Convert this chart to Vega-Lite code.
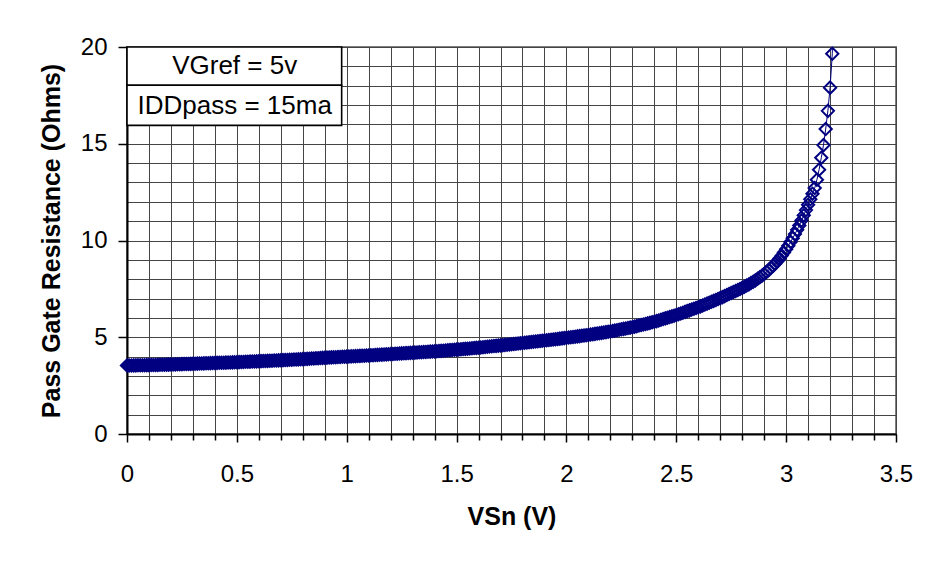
{
  "$schema": "https://vega.github.io/schema/vega-lite/v6.json",
  "autosize": "none",
  "width": 769,
  "height": 387,
  "padding": {"left": 127, "top": 47, "right": 33, "bottom": 128},
  "background": "white",
  "datasets": {
    "curve": [
{"vsn":0,"ohms":3.54},{"vsn":0.01,"ohms":3.542},{"vsn":0.02,"ohms":3.544},{"vsn":0.03,"ohms":3.546},{"vsn":0.04,"ohms":3.548},{"vsn":0.05,"ohms":3.55},{"vsn":0.06,"ohms":3.552},{"vsn":0.07,"ohms":3.554},{"vsn":0.08,"ohms":3.556},{"vsn":0.09,"ohms":3.558},
{"vsn":0.1,"ohms":3.56},{"vsn":0.11,"ohms":3.563},{"vsn":0.12,"ohms":3.566},{"vsn":0.13,"ohms":3.569},{"vsn":0.14,"ohms":3.572},{"vsn":0.15,"ohms":3.575},{"vsn":0.16,"ohms":3.578},{"vsn":0.17,"ohms":3.581},{"vsn":0.18,"ohms":3.584},{"vsn":0.19,"ohms":3.587},
{"vsn":0.2,"ohms":3.59},{"vsn":0.21,"ohms":3.594},{"vsn":0.22,"ohms":3.598},{"vsn":0.23,"ohms":3.602},{"vsn":0.24,"ohms":3.606},{"vsn":0.25,"ohms":3.61},{"vsn":0.26,"ohms":3.614},{"vsn":0.27,"ohms":3.618},{"vsn":0.28,"ohms":3.622},{"vsn":0.29,"ohms":3.626},
{"vsn":0.3,"ohms":3.63},{"vsn":0.31,"ohms":3.634},{"vsn":0.32,"ohms":3.638},{"vsn":0.33,"ohms":3.642},{"vsn":0.34,"ohms":3.646},{"vsn":0.35,"ohms":3.65},{"vsn":0.36,"ohms":3.654},{"vsn":0.37,"ohms":3.658},{"vsn":0.38,"ohms":3.662},{"vsn":0.39,"ohms":3.666},
{"vsn":0.4,"ohms":3.67},{"vsn":0.41,"ohms":3.674},{"vsn":0.42,"ohms":3.678},{"vsn":0.43,"ohms":3.682},{"vsn":0.44,"ohms":3.686},{"vsn":0.45,"ohms":3.69},{"vsn":0.46,"ohms":3.694},{"vsn":0.47,"ohms":3.698},{"vsn":0.48,"ohms":3.702},{"vsn":0.49,"ohms":3.706},
{"vsn":0.5,"ohms":3.71},{"vsn":0.51,"ohms":3.715},{"vsn":0.52,"ohms":3.72},{"vsn":0.53,"ohms":3.725},{"vsn":0.54,"ohms":3.73},{"vsn":0.55,"ohms":3.735},{"vsn":0.56,"ohms":3.74},{"vsn":0.57,"ohms":3.745},{"vsn":0.58,"ohms":3.75},{"vsn":0.59,"ohms":3.755},
{"vsn":0.6,"ohms":3.76},{"vsn":0.61,"ohms":3.765},{"vsn":0.62,"ohms":3.77},{"vsn":0.63,"ohms":3.775},{"vsn":0.64,"ohms":3.78},{"vsn":0.65,"ohms":3.785},{"vsn":0.66,"ohms":3.79},{"vsn":0.67,"ohms":3.795},{"vsn":0.68,"ohms":3.8},{"vsn":0.69,"ohms":3.805},
{"vsn":0.7,"ohms":3.81},{"vsn":0.71,"ohms":3.816},{"vsn":0.72,"ohms":3.822},{"vsn":0.73,"ohms":3.828},{"vsn":0.74,"ohms":3.834},{"vsn":0.75,"ohms":3.84},{"vsn":0.76,"ohms":3.846},{"vsn":0.77,"ohms":3.852},{"vsn":0.78,"ohms":3.858},{"vsn":0.79,"ohms":3.864},
{"vsn":0.8,"ohms":3.87},{"vsn":0.81,"ohms":3.877},{"vsn":0.82,"ohms":3.884},{"vsn":0.83,"ohms":3.891},{"vsn":0.84,"ohms":3.898},{"vsn":0.85,"ohms":3.905},{"vsn":0.86,"ohms":3.912},{"vsn":0.87,"ohms":3.919},{"vsn":0.88,"ohms":3.926},{"vsn":0.89,"ohms":3.933},
{"vsn":0.9,"ohms":3.94},{"vsn":0.91,"ohms":3.946},{"vsn":0.92,"ohms":3.952},{"vsn":0.93,"ohms":3.958},{"vsn":0.94,"ohms":3.964},{"vsn":0.95,"ohms":3.97},{"vsn":0.96,"ohms":3.976},{"vsn":0.97,"ohms":3.982},{"vsn":0.98,"ohms":3.988},{"vsn":0.99,"ohms":3.994},
{"vsn":1,"ohms":4},{"vsn":1.01,"ohms":4.006},{"vsn":1.02,"ohms":4.012},{"vsn":1.03,"ohms":4.018},{"vsn":1.04,"ohms":4.024},{"vsn":1.05,"ohms":4.03},{"vsn":1.06,"ohms":4.036},{"vsn":1.07,"ohms":4.042},{"vsn":1.08,"ohms":4.048},{"vsn":1.09,"ohms":4.054},
{"vsn":1.1,"ohms":4.06},{"vsn":1.11,"ohms":4.067},{"vsn":1.12,"ohms":4.074},{"vsn":1.13,"ohms":4.081},{"vsn":1.14,"ohms":4.088},{"vsn":1.15,"ohms":4.095},{"vsn":1.16,"ohms":4.102},{"vsn":1.17,"ohms":4.109},{"vsn":1.18,"ohms":4.116},{"vsn":1.19,"ohms":4.123},
{"vsn":1.2,"ohms":4.13},{"vsn":1.21,"ohms":4.137},{"vsn":1.22,"ohms":4.144},{"vsn":1.23,"ohms":4.151},{"vsn":1.24,"ohms":4.158},{"vsn":1.25,"ohms":4.165},{"vsn":1.26,"ohms":4.172},{"vsn":1.27,"ohms":4.179},{"vsn":1.28,"ohms":4.186},{"vsn":1.29,"ohms":4.193},
{"vsn":1.3,"ohms":4.2},{"vsn":1.31,"ohms":4.207},{"vsn":1.32,"ohms":4.214},{"vsn":1.33,"ohms":4.221},{"vsn":1.34,"ohms":4.228},{"vsn":1.35,"ohms":4.235},{"vsn":1.36,"ohms":4.242},{"vsn":1.37,"ohms":4.249},{"vsn":1.38,"ohms":4.256},{"vsn":1.39,"ohms":4.263},
{"vsn":1.4,"ohms":4.27},{"vsn":1.41,"ohms":4.279},{"vsn":1.42,"ohms":4.288},{"vsn":1.43,"ohms":4.297},{"vsn":1.44,"ohms":4.306},{"vsn":1.45,"ohms":4.315},{"vsn":1.46,"ohms":4.324},{"vsn":1.47,"ohms":4.333},{"vsn":1.48,"ohms":4.342},{"vsn":1.49,"ohms":4.351},
{"vsn":1.5,"ohms":4.36},{"vsn":1.51,"ohms":4.37},{"vsn":1.52,"ohms":4.38},{"vsn":1.53,"ohms":4.39},{"vsn":1.54,"ohms":4.4},{"vsn":1.55,"ohms":4.41},{"vsn":1.56,"ohms":4.42},{"vsn":1.57,"ohms":4.43},{"vsn":1.58,"ohms":4.44},{"vsn":1.59,"ohms":4.45},
{"vsn":1.6,"ohms":4.46},{"vsn":1.61,"ohms":4.472},{"vsn":1.62,"ohms":4.484},{"vsn":1.63,"ohms":4.496},{"vsn":1.64,"ohms":4.508},{"vsn":1.65,"ohms":4.52},{"vsn":1.66,"ohms":4.532},{"vsn":1.67,"ohms":4.544},{"vsn":1.68,"ohms":4.556},{"vsn":1.69,"ohms":4.568},
{"vsn":1.7,"ohms":4.58},{"vsn":1.71,"ohms":4.592},{"vsn":1.72,"ohms":4.604},{"vsn":1.73,"ohms":4.616},{"vsn":1.74,"ohms":4.628},{"vsn":1.75,"ohms":4.64},{"vsn":1.76,"ohms":4.652},{"vsn":1.77,"ohms":4.664},{"vsn":1.78,"ohms":4.676},{"vsn":1.79,"ohms":4.688},
{"vsn":1.8,"ohms":4.7},{"vsn":1.81,"ohms":4.713},{"vsn":1.82,"ohms":4.726},{"vsn":1.83,"ohms":4.739},{"vsn":1.84,"ohms":4.752},{"vsn":1.85,"ohms":4.765},{"vsn":1.86,"ohms":4.778},{"vsn":1.87,"ohms":4.791},{"vsn":1.88,"ohms":4.804},{"vsn":1.89,"ohms":4.817},
{"vsn":1.9,"ohms":4.83},{"vsn":1.91,"ohms":4.844},{"vsn":1.92,"ohms":4.858},{"vsn":1.93,"ohms":4.872},{"vsn":1.94,"ohms":4.886},{"vsn":1.95,"ohms":4.9},{"vsn":1.96,"ohms":4.914},{"vsn":1.97,"ohms":4.928},{"vsn":1.98,"ohms":4.942},{"vsn":1.99,"ohms":4.956},
{"vsn":2,"ohms":4.97},{"vsn":2.01,"ohms":4.985},{"vsn":2.02,"ohms":5},{"vsn":2.03,"ohms":5.015},{"vsn":2.04,"ohms":5.03},{"vsn":2.05,"ohms":5.045},{"vsn":2.06,"ohms":5.06},{"vsn":2.07,"ohms":5.075},{"vsn":2.08,"ohms":5.09},{"vsn":2.09,"ohms":5.105},
{"vsn":2.1,"ohms":5.12},{"vsn":2.11,"ohms":5.138},{"vsn":2.12,"ohms":5.156},{"vsn":2.13,"ohms":5.174},{"vsn":2.14,"ohms":5.192},{"vsn":2.15,"ohms":5.21},{"vsn":2.16,"ohms":5.228},{"vsn":2.17,"ohms":5.246},{"vsn":2.18,"ohms":5.264},{"vsn":2.19,"ohms":5.282},
{"vsn":2.2,"ohms":5.3},{"vsn":2.21,"ohms":5.322},{"vsn":2.22,"ohms":5.344},{"vsn":2.23,"ohms":5.366},{"vsn":2.24,"ohms":5.388},{"vsn":2.25,"ohms":5.41},{"vsn":2.26,"ohms":5.432},{"vsn":2.27,"ohms":5.454},{"vsn":2.28,"ohms":5.476},{"vsn":2.29,"ohms":5.498},
{"vsn":2.3,"ohms":5.52},{"vsn":2.31,"ohms":5.548},{"vsn":2.32,"ohms":5.576},{"vsn":2.33,"ohms":5.604},{"vsn":2.34,"ohms":5.632},{"vsn":2.35,"ohms":5.66},{"vsn":2.36,"ohms":5.688},{"vsn":2.37,"ohms":5.716},{"vsn":2.38,"ohms":5.744},{"vsn":2.39,"ohms":5.772},
{"vsn":2.4,"ohms":5.8},{"vsn":2.41,"ohms":5.835},{"vsn":2.42,"ohms":5.87},{"vsn":2.43,"ohms":5.905},{"vsn":2.44,"ohms":5.94},{"vsn":2.45,"ohms":5.975},{"vsn":2.46,"ohms":6.01},{"vsn":2.47,"ohms":6.045},{"vsn":2.48,"ohms":6.08},{"vsn":2.49,"ohms":6.115},
{"vsn":2.5,"ohms":6.15},{"vsn":2.51,"ohms":6.19},{"vsn":2.52,"ohms":6.23},{"vsn":2.53,"ohms":6.27},{"vsn":2.54,"ohms":6.31},{"vsn":2.55,"ohms":6.35},{"vsn":2.56,"ohms":6.39},{"vsn":2.57,"ohms":6.43},{"vsn":2.58,"ohms":6.47},{"vsn":2.59,"ohms":6.51},
{"vsn":2.6,"ohms":6.55},{"vsn":2.61,"ohms":6.597},{"vsn":2.62,"ohms":6.644},{"vsn":2.63,"ohms":6.691},{"vsn":2.64,"ohms":6.738},{"vsn":2.65,"ohms":6.785},{"vsn":2.66,"ohms":6.832},{"vsn":2.67,"ohms":6.879},{"vsn":2.68,"ohms":6.926},{"vsn":2.69,"ohms":6.973},
{"vsn":2.7,"ohms":7.02},{"vsn":2.71,"ohms":7.073},{"vsn":2.72,"ohms":7.126},{"vsn":2.73,"ohms":7.179},{"vsn":2.74,"ohms":7.232},{"vsn":2.75,"ohms":7.285},{"vsn":2.76,"ohms":7.338},{"vsn":2.77,"ohms":7.391},{"vsn":2.78,"ohms":7.444},{"vsn":2.79,"ohms":7.497},
{"vsn":2.8,"ohms":7.55},{"vsn":2.81,"ohms":7.61},{"vsn":2.82,"ohms":7.67},{"vsn":2.83,"ohms":7.73},{"vsn":2.84,"ohms":7.8},{"vsn":2.85,"ohms":7.87},{"vsn":2.86,"ohms":7.94},{"vsn":2.87,"ohms":8.02},{"vsn":2.88,"ohms":8.1},{"vsn":2.89,"ohms":8.18},
{"vsn":2.9,"ohms":8.27},{"vsn":2.91,"ohms":8.37},{"vsn":2.92,"ohms":8.47},{"vsn":2.93,"ohms":8.58},{"vsn":2.94,"ohms":8.69},{"vsn":2.95,"ohms":8.8},{"vsn":2.96,"ohms":8.93},{"vsn":2.97,"ohms":9.07},{"vsn":2.98,"ohms":9.22},{"vsn":2.99,"ohms":9.38},
{"vsn":3,"ohms":9.55},{"vsn":3.01,"ohms":9.73},{"vsn":3.02,"ohms":9.92},{"vsn":3.03,"ohms":10.12},{"vsn":3.04,"ohms":10.33},{"vsn":3.05,"ohms":10.55},{"vsn":3.06,"ohms":10.78},{"vsn":3.07,"ohms":11.03},{"vsn":3.08,"ohms":11.3},{"vsn":3.09,"ohms":11.57},
{"vsn":3.1,"ohms":11.85},{"vsn":3.11,"ohms":12.13},{"vsn":3.12,"ohms":12.42},{"vsn":3.13,"ohms":12.71},{"vsn":3.14,"ohms":13.14},{"vsn":3.15,"ohms":13.66},{"vsn":3.16,"ohms":14.28},{"vsn":3.17,"ohms":14.93},{"vsn":3.18,"ohms":15.76},{"vsn":3.19,"ohms":16.7},
{"vsn":3.2,"ohms":17.9},{"vsn":3.21,"ohms":19.65},{"vsn":3.215,"ohms":22}
    ],
    "box": [
      {"x1": 0, "x2": 0.977, "y1": 18.02, "y2": 20, "label": "VGref = 5v", "xm": 0.49, "ym": 19.0},
      {"x1": 0, "x2": 0.977, "y1": 15.95, "y2": 18.02, "label": "IDDpass = 15ma", "xm": 0.49, "ym": 16.97}
    ]
  },
  "encoding": {
    "x": {
      "type": "quantitative",
      "scale": {"domain": [0, 3.5], "nice": false, "zero": false},
      "axis": {
        "title": "VSn (V)",
        "values": [0,0.1,0.2,0.3,0.4,0.5,0.6,0.7,0.8,0.9,1,1.1,1.2,1.3,1.4,1.5,1.6,1.7,1.8,1.9,2,2.1,2.2,2.3,2.4,2.5,2.6,2.7,2.8,2.9,3,3.1,3.2,3.3,3.4,3.5],
        "format": "~g",
        "labelExpr": "abs(datum.value*2 - round(datum.value*2)) < 0.001 ? datum.label : ''",
        "tickSize": {"condition": {"test": "abs(datum.value*2 - round(datum.value*2)) < 0.001", "value": 8}, "value": 6},
        "labelFlush": false,
        "labelOverlap": false,
        "labelPadding": 20,
        "titlePadding": 18
      }
    },
    "y": {
      "type": "quantitative",
      "scale": {"domain": [0, 20], "nice": false, "zero": false},
      "axis": {
        "title": "Pass Gate Resistance (Ohms)",
        "values": [0,1,2,3,4,5,6,7,8,9,10,11,12,13,14,15,16,17,18,19,20],
        "labelExpr": "datum.value % 5 === 0 ? datum.label : ''",
        "tickOpacity": {"condition": {"test": "datum.value % 5 === 0", "value": 1}, "value": 0},
        "tickSize": 9,
        "labelFlush": false,
        "labelOverlap": false,
        "labelPadding": 11,
        "titlePadding": 16
      }
    }
  },
  "layer": [
    {
      "data": {"name": "curve"},
      "mark": {"type": "line", "color": "#000080", "strokeWidth": 1, "clip": true},
      "encoding": {"x": {"field": "vsn"}, "y": {"field": "ohms"}}
    },
    {
      "data": {"name": "curve"},
      "transform": [{"filter": "datum.ohms <= 20"}],
      "mark": {"type": "point", "shape": "diamond", "filled": false, "color": "#000080", "size": 150, "strokeWidth": 2, "opacity": 1},
      "encoding": {"x": {"field": "vsn"}, "y": {"field": "ohms"}}
    },
    {
      "data": {"name": "box"},
      "mark": {"type": "rect", "fill": "white", "stroke": "black", "strokeWidth": 1.6},
      "encoding": {"x": {"field": "x1"}, "x2": {"field": "x2"}, "y": {"field": "y1"}, "y2": {"field": "y2"}}
    },
    {
      "data": {"name": "box"},
      "mark": {"type": "text", "font": "Liberation Sans", "fontSize": 26, "color": "black", "align": "center", "baseline": "middle"},
      "encoding": {"x": {"field": "xm"}, "y": {"field": "ym"}, "text": {"field": "label"}}
    }
  ],
  "config": {
    "view": {"stroke": "#808080", "strokeWidth": 2},
    "axis": {
      "grid": true,
      "gridColor": "#444444",
      "gridWidth": 1,
      "gridOpacity": 1,
      "domainColor": "black",
      "domainWidth": 2,
      "tickColor": "black",
      "tickWidth": 1.5,
      "labelFont": "Liberation Sans",
      "labelFontSize": 24,
      "labelColor": "black",
      "titleFont": "Liberation Sans",
      "titleFontSize": 25,
      "titleFontWeight": "bold",
      "titleColor": "black"
    }
  }
}
